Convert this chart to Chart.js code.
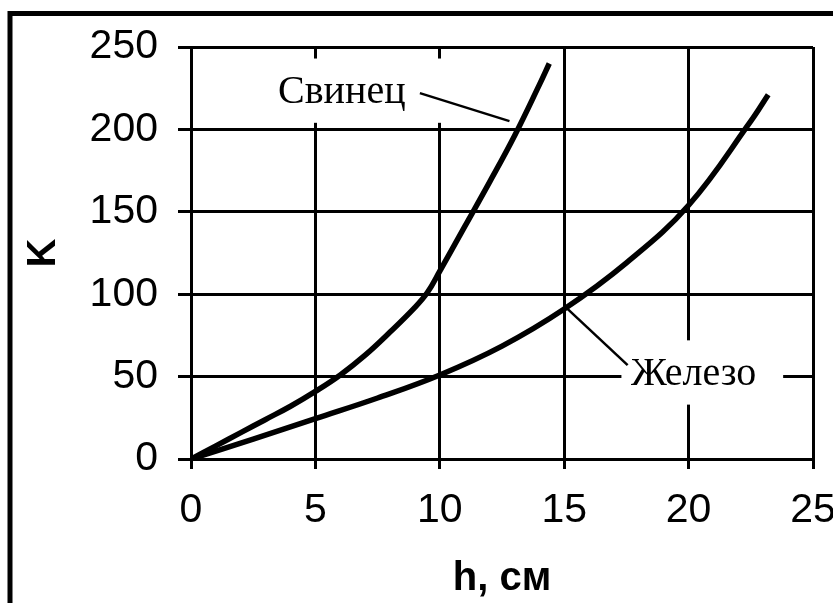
<!DOCTYPE html>
<html><head><meta charset="utf-8">
<script src="https://cdn.jsdelivr.net/npm/chart.js@4"></script>
<style>html,body{margin:0;padding:0;background:#fff;overflow:hidden}#wrap{width:833px;height:603px;position:relative}</style>
</head><body><div id="wrap"><canvas id="c" width="833" height="603"></canvas></div>
<script>
// ---- data ----
const leadH = [0, 1, 2, 3, 4, 5, 6, 7, 8, 9, 9.5, 10, 11, 12, 13, 14, 14.4];
const leadK = [0, 8, 16, 24, 32, 41, 51, 63, 77, 92, 101, 114, 141, 168, 196, 227, 240];
const ironH = [0, 2.5, 5, 7.5, 10, 12.5, 15, 17.5, 20, 22.5, 23.2];
const ironK = [0, 12, 24.5, 37, 51, 68.5, 91, 119, 154, 205, 221];
const xTicks = [0, 5, 10, 15, 20, 25];
const yTicks = [0, 50, 100, 150, 200, 250];
const seriesNames = ['Свинец', 'Железо'];
const xTitle = 'h, см';
const yTitle = 'K';

// annotation placement (data units)
const notes = [
  {text: seriesNames[0], at: [6.06, 222.5], box: [3.1, 243, 10.25, 204], line: [9.2, 222, 12.8, 205]},
  {text: seriesNames[1], at: [20.2, 51.5], box: [17.3, 72, 23.8, 33], line: [15.1, 91.5, 17.55, 57]}
];

const toPts = (xs, ys) => xs.map((x, i) => ({x, y: ys[i]}));

const frame = {
  id: 'frame',
  beforeDraw(chart) {
    const c = chart.ctx;
    c.save();
    c.fillStyle = '#fff';
    c.fillRect(0, 0, chart.width, chart.height);
    c.strokeStyle = '#000';
    c.lineWidth = 5;
    c.beginPath();
    c.moveTo(10, chart.height + 5);
    c.lineTo(10, 13.5);
    c.lineTo(chart.width + 5, 13.5);
    c.stroke();
    c.restore();
  }
};

const labels = {
  id: 'labels',
  beforeDatasetsDraw(chart) {
    const c = chart.ctx, sx = chart.scales.x, sy = chart.scales.y;
    c.save();
    notes.forEach(n => {
      const x1 = sx.getPixelForValue(n.box[0]), y1 = sy.getPixelForValue(n.box[1]);
      const x2 = sx.getPixelForValue(n.box[2]), y2 = sy.getPixelForValue(n.box[3]);
      c.fillStyle = '#fff';
      c.fillRect(x1, y1, x2 - x1, y2 - y1);
      c.strokeStyle = '#000';
      c.lineWidth = 2.5;
      c.beginPath();
      c.moveTo(sx.getPixelForValue(n.line[0]), sy.getPixelForValue(n.line[1]));
      c.lineTo(sx.getPixelForValue(n.line[2]), sy.getPixelForValue(n.line[3]));
      c.stroke();
      c.fillStyle = '#000';
      c.font = '40px "Liberation Serif"';
      c.textAlign = 'center';
      c.textBaseline = 'middle';
      c.fillText(n.text, sx.getPixelForValue(n.at[0]), sy.getPixelForValue(n.at[1]));
    });
    c.restore();
  }
};

new Chart(document.getElementById('c'), {
  type: 'line',
  data: {
    datasets: [
      {label: seriesNames[0], data: toPts(leadH, leadK), borderColor: '#000', borderWidth: 5.5, pointRadius: 0, tension: 0.4, fill: false},
      {label: seriesNames[1], data: toPts(ironH, ironK), borderColor: '#000', borderWidth: 5.5, pointRadius: 0, tension: 0.4, fill: false}
    ]
  },
  options: {
    responsive: false,
    animation: false,
    devicePixelRatio: 1,
    layout: {padding: {left: 0, top: 47, right: 20, bottom: 0}},
    plugins: {legend: {display: false}, tooltip: {enabled: false}},
    scales: {
      x: {
        type: 'linear', min: 0, max: 25,
        afterBuildTicks: s => { s.ticks = xTicks.map(v => ({value: v})); },
        grid: {color: '#000', lineWidth: 3, tickLength: 10, tickWidth: 3, tickColor: '#000'},
        border: {color: '#000', width: 3},
        ticks: {color: '#000', font: {family: 'Liberation Sans', size: 41}, padding: 17, maxRotation: 0, autoSkip: false},
        title: {display: true, text: xTitle, color: '#000', font: {family: 'Liberation Sans', size: 40, weight: 'bold'}, padding: {top: 0, bottom: 0}},
        afterFit: s => { s.height = 144; s.paddingLeft = 0; s.paddingRight = 0; }
      },
      y: {
        type: 'linear', min: 0, max: 250,
        afterBuildTicks: s => { s.ticks = yTicks.map(v => ({value: v})); },
        grid: {color: '#000', lineWidth: 3, tickLength: 13, tickWidth: 3, tickColor: '#000'},
        border: {color: '#000', width: 3},
        ticks: {color: '#000', font: {family: 'Liberation Sans', size: 41}, padding: 20, autoSkip: false},
        title: {display: true, text: yTitle, color: '#000', font: {family: 'Liberation Sans', size: 40, weight: 'bold'}, padding: {top: 20, bottom: 0}},
        afterFit: s => { s.width = 191; s.paddingTop = 0; s.paddingBottom = 0; }
      }
    }
  },
  plugins: [frame, labels]
});
</script>
</body></html>
